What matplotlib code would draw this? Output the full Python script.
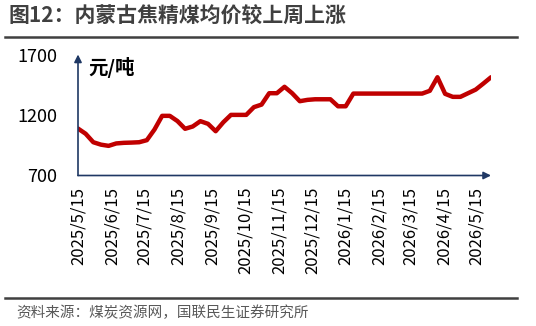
import datetime as dt
import matplotlib
matplotlib.use("Agg")
import matplotlib.pyplot as plt

plt.rcParams['font.family'] = ['Noto Sans CJK SC', 'DejaVu Sans']

# 周度数据，2025/5/15 起
start = dt.date(2025, 5, 15)
prices = [1088, 1045, 975, 955, 945, 965, 970, 972, 975, 992,
          1080, 1193, 1193, 1150, 1086, 1105, 1149, 1127, 1066, 1140,
          1201, 1201, 1201, 1265, 1286, 1380, 1380, 1433, 1380, 1314,
          1325, 1330, 1330, 1330, 1272, 1272, 1377, 1377, 1377, 1377,
          1377, 1377, 1377, 1377, 1377, 1377, 1400, 1512, 1375, 1350,
          1350, 1380, 1410, 1460, 1512]
dates = [start + dt.timedelta(weeks=i) for i in range(len(prices))]

tick_dates = [dt.date(2025 + (4 + i) // 12, (4 + i) % 12 + 1, 15) for i in range(13)]
tick_labels = [f"{d.year}/{d.month}/{d.day}" for d in tick_dates]
y_ticks = [700, 1200, 1700]

navy = '#1F3864'
red = '#C00000'
gray = '#404040'

fig = plt.figure(figsize=(5.36, 3.26), dpi=100)
ax = fig.add_axes([78 / 536, 1 - 175.5 / 326, (491 - 78) / 536, (175.5 - 54.5) / 326])

ax.plot(dates, prices, color=red, lw=3.2, solid_joinstyle='round', solid_capstyle='round', zorder=3)

ax.set_xlim(dates[0], dates[-1])
ax.set_ylim(700, 1700)
ax.set_xticks(tick_dates)
ax.set_xticklabels(tick_labels, rotation=90, fontsize=12, color='black')
ax.set_yticks(y_ticks)
ax.set_yticklabels([str(v) for v in y_ticks], fontsize=13, color='black')
ax.tick_params(axis='x', length=0, pad=8)
ax.tick_params(axis='y', length=0, pad=15)
for s in ax.spines.values():
    s.set_visible(False)

# 坐标轴箭头
ax.annotate('', xy=(0, 1.0), xytext=(0, 0), xycoords='axes fraction',
            arrowprops=dict(arrowstyle='-|>', color=navy, lw=1.2, mutation_scale=11, shrinkA=0, shrinkB=0))
ax.annotate('', xy=(1.0, 0), xytext=(0, 0), xycoords='axes fraction',
            arrowprops=dict(arrowstyle='-|>', color=navy, lw=1.2, mutation_scale=11, shrinkA=0, shrinkB=0))

ax.text(88 / 536, 1 - 67 / 326, '元/吨', transform=fig.transFigure, fontsize=14,
        fontweight='bold', va='center', ha='left')

# 标题和来源
fig.text(8 / 536, 1 - 16 / 326, '图12：内蒙古焦精煤均价较上周上涨', fontsize=15,
         fontweight='bold', color=gray, va='center', ha='left')
fig.add_artist(plt.Line2D([5 / 536, 517 / 536], [1 - 37 / 326] * 2, color=gray, lw=1.8))
fig.add_artist(plt.Line2D([5 / 536, 517 / 536], [1 - 298 / 326] * 2, color=gray, lw=1.8))
fig.text(16 / 536, 1 - 313 / 326, '资料来源：煤炭资源网，国联民生证券研究所', fontsize=10.5,
         color='#595959', va='center', ha='left')

fig.savefig('out.png', dpi=100)
